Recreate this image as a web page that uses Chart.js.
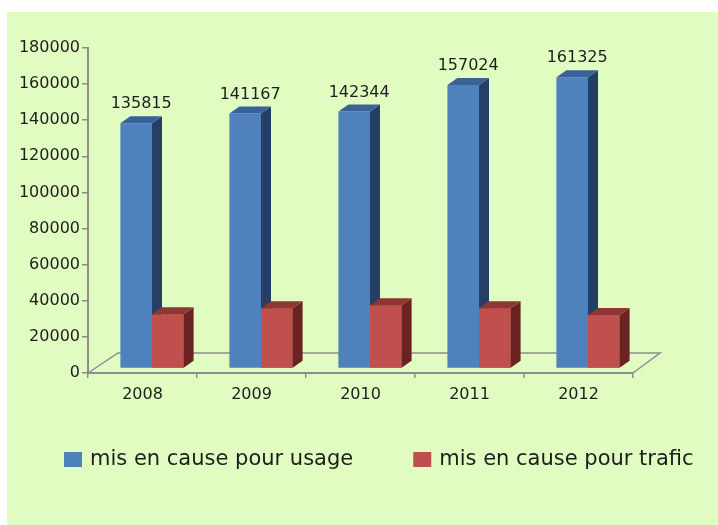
<!DOCTYPE html>
<html>
<head>
<meta charset="utf-8">
<script src="https://cdn.jsdelivr.net/npm/chart.js@4"></script>
<style>
  html, body { margin: 0; padding: 0; background: #fff; }
  #wrap { position: absolute; left: 7px; top: 12px; width: 711px; height: 513px; background: #e0fcc0; }
</style>
</head>
<body>
<div id="wrap"><canvas id="chart" width="711" height="513"></canvas></div>
<script>
const years = ['2008', '2009', '2010', '2011', '2012'];
const usage = [135815, 141167, 142344, 157024, 161325];
const trafic = [30000, 33400, 35100, 33400, 29600];
const yTicks = [0, 20000, 40000, 60000, 80000, 100000, 120000, 140000, 160000, 180000];
const seriesNames = ['mis en cause pour usage', 'mis en cause pour trafic'];

const frontColors = ['#4f81bd', '#c0504d'];
const sideColors = ['#253f66', '#6a2322'];
const topColors = ['#3a6298', '#8f3533'];
const textColor = '#1e1e1e';
const axisColor = '#8c8c8c';

// fake 3d: bars pushed back a bit, with a side and a top face
const SHIFT_X = 9.5, SHIFT_Y = -4.5;
const DEPTH_X = 10, DEPTH_Y = -7;

const bars3d = {
  id: 'bars3d',
  beforeDatasetsDraw(chart) {
    const { ctx, chartArea: a } = chart;
    ctx.save();
    ctx.strokeStyle = axisColor;
    ctx.lineWidth = 1.5;
    ctx.beginPath();
    ctx.moveTo(a.left, a.bottom);
    ctx.lineTo(a.left + 30, a.bottom - 20);
    ctx.lineTo(a.right + 27, a.bottom - 20);
    ctx.lineTo(a.right, a.bottom);
    ctx.stroke();
    ctx.restore();

    ctx.save();
    ctx.translate(SHIFT_X, SHIFT_Y);
  },
  afterDatasetsDraw(chart) {
    const ctx = chart.ctx;
    const metas = chart.data.datasets.map((d, i) => chart.getDatasetMeta(i));
    years.forEach((yr, j) => {
      metas.forEach((meta, i) => {
        const bar = meta.data[j];
        const { x, y, base, width } = bar.getProps(['x', 'y', 'base', 'width'], true);
        const l = x - width / 2, r = x + width / 2;
        if (i > 0) {
          // redraw front so it covers the previous bar's side face
          ctx.fillStyle = frontColors[i];
          ctx.fillRect(l, y, width, base - y);
        }
        ctx.fillStyle = sideColors[i];
        ctx.beginPath();
        ctx.moveTo(r, y);
        ctx.lineTo(r + DEPTH_X, y + DEPTH_Y);
        ctx.lineTo(r + DEPTH_X, base + DEPTH_Y);
        ctx.lineTo(r, base);
        ctx.closePath();
        ctx.fill();

        ctx.fillStyle = topColors[i];
        ctx.beginPath();
        ctx.moveTo(l, y);
        ctx.lineTo(l + DEPTH_X, y + DEPTH_Y);
        ctx.lineTo(r + DEPTH_X, y + DEPTH_Y);
        ctx.lineTo(r, y);
        ctx.closePath();
        ctx.fill();
      });
    });

    // value labels over the blue bars
    ctx.font = '16px "DejaVu Sans"';
    ctx.fillStyle = textColor;
    ctx.textAlign = 'center';
    ctx.textBaseline = 'middle';
    metas[0].data.forEach((bar, j) => {
      const { x, y } = bar.getProps(['x', 'y'], true);
      ctx.fillText(String(usage[j]), x + DEPTH_X / 2, y - 19);
    });
    ctx.restore();
  }
};

const legendRow = {
  id: 'legendRow',
  afterDraw(chart) {
    const { ctx, chartArea: a } = chart;
    ctx.save();
    ctx.font = '21px "DejaVu Sans"';
    ctx.textBaseline = 'middle';
    ctx.textAlign = 'left';
    let x = a.left - 24;
    const y = a.bottom + 87;
    chart.data.datasets.forEach((ds) => {
      ctx.fillStyle = ds.backgroundColor;
      ctx.fillRect(x, y - 8, 18, 15);
      ctx.fillStyle = textColor;
      ctx.fillText(ds.label, x + 26, y);
      x += 26 + ctx.measureText(ds.label).width + 60;
    });
    ctx.restore();
  }
};

const tickFont = { family: 'DejaVu Sans', size: 16 };

new Chart(document.getElementById('chart'), {
  type: 'bar',
  data: {
    labels: years,
    datasets: [
      { label: seriesNames[0], data: usage, backgroundColor: frontColors[0], clip: false },
      { label: seriesNames[1], data: trafic, backgroundColor: frontColors[1], clip: false },
    ],
  },
  options: {
    responsive: false,
    animation: false,
    devicePixelRatio: 1,
    categoryPercentage: 0.58,
    barPercentage: 1,
    layout: { padding: { left: 0, right: 85, top: 36, bottom: 112 } },
    plugins: {
      legend: { display: false },
      tooltip: { enabled: false },
    },
    scales: {
      x: {
        grid: { drawOnChartArea: false, tickLength: 5, color: axisColor, lineWidth: 1.5 },
        border: { color: axisColor, width: 2 },
        ticks: { color: textColor, font: tickFont, padding: 7 },
        afterFit(s) { s.height = 40; },
      },
      y: {
        min: 0,
        max: 180000,
        afterBuildTicks(s) { s.ticks = yTicks.map((v) => ({ value: v })); },
        grid: { drawOnChartArea: false, tickLength: 6, color: axisColor, lineWidth: 1.5 },
        border: { color: axisColor, width: 2 },
        ticks: { color: textColor, font: tickFont, padding: 2, callback: (v) => String(v) },
        afterFit(s) { s.width = 81; },
      },
    },
  },
  plugins: [bars3d, legendRow],
});
</script>
</body>
</html>
